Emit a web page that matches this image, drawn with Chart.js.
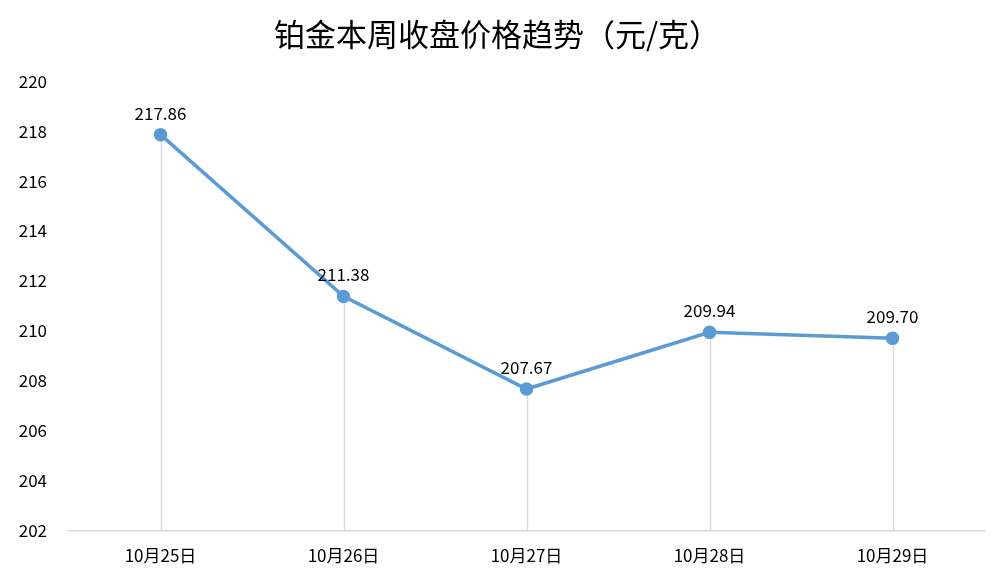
<!DOCTYPE html>
<html>
<head>
  <meta charset="utf-8">
  <title>铂金本周收盘价格趋势</title>
  <script src="https://cdn.jsdelivr.net/npm/chart.js@4/dist/chart.umd.min.js"></script>
  <style>
    html, body { margin: 0; padding: 0; background: #fff; }
    #wrap { width: 1004px; height: 581px; }
  </style>
</head>
<body>
  <div id="wrap"><canvas id="chart" width="1004" height="581"></canvas></div>

  <script>
    var days = ['10月25日', '10月26日', '10月27日', '10月28日', '10月29日'];
    var closePrice = [217.86, 211.38, 207.67, 209.94, 209.70];
    var yMin = 202, yMax = 220, yStep = 2;

    var fontCJK = '"Noto Sans CJK SC", "Noto Sans", sans-serif';

    // vertical drop lines from each point down to the x axis
    var dropLines = {
      id: 'dropLines',
      beforeDatasetsDraw: function (chart) {
        var ctx = chart.ctx, y = chart.scales.y, x = chart.scales.x;
        ctx.save();
        ctx.strokeStyle = '#d9d9d9';
        ctx.lineWidth = 1.5;
        closePrice.forEach(function (v, i) {
          var px = Math.round(x.getPixelForValue(i)) + 0.5;
          ctx.beginPath();
          ctx.moveTo(px, y.getPixelForValue(v));
          ctx.lineTo(px, y.getPixelForValue(yMin));
          ctx.stroke();
        });
        ctx.restore();
      }
    };

    // value labels above points
    var valueLabels = {
      id: 'valueLabels',
      afterDatasetsDraw: function (chart) {
        var ctx = chart.ctx;
        var meta = chart.getDatasetMeta(0);
        ctx.save();
        ctx.font = '17px ' + fontCJK;
        ctx.fillStyle = '#000';
        ctx.textAlign = 'center';
        ctx.textBaseline = 'bottom';
        meta.data.forEach(function (pt, i) {
          ctx.fillText(closePrice[i].toFixed(2), pt.x, pt.y - 13);
        });
        ctx.restore();
      }
    };

    new Chart(document.getElementById('chart'), {
      type: 'line',
      data: {
        labels: days,
        datasets: [{
          data: closePrice,
          borderColor: '#5b9bd5',
          backgroundColor: '#5b9bd5',
          borderWidth: 3.5,
          pointRadius: 5,
          pointHoverRadius: 5,
          tension: 0,
          fill: false
        }]
      },
      options: {
        responsive: false,
        animation: false,
        layout: { padding: { top: 0, right: 20, bottom: 0, left: 10 } },
        plugins: {
          legend: { display: false },
          tooltip: { enabled: false },
          title: {
            display: true,
            text: '铂金本周收盘价格趋势（元/克）',
            color: '#000',
            font: { family: fontCJK, size: 31, weight: 'normal' },
            padding: { top: 16, bottom: 28 }
          }
        },
        scales: {
          x: {
            offset: true,
            grid: { display: false, drawTicks: false },
            border: { display: true, color: '#d9d9d9', width: 1.5 },
            ticks: {
              color: '#000',
              font: { family: fontCJK, size: 17 },
              padding: 15,
              maxRotation: 0
            }
          },
          y: {
            min: yMin,
            max: yMax,
            grid: { display: false, drawTicks: false },
            border: { display: false },
            ticks: {
              stepSize: yStep,
              color: '#000',
              font: { family: fontCJK, size: 17 },
              padding: 22
            },
            afterFit: function (s) { s.width = 59; }
          }
        }
      },
      plugins: [dropLines, valueLabels]
    });
  </script>
</body>
</html>
